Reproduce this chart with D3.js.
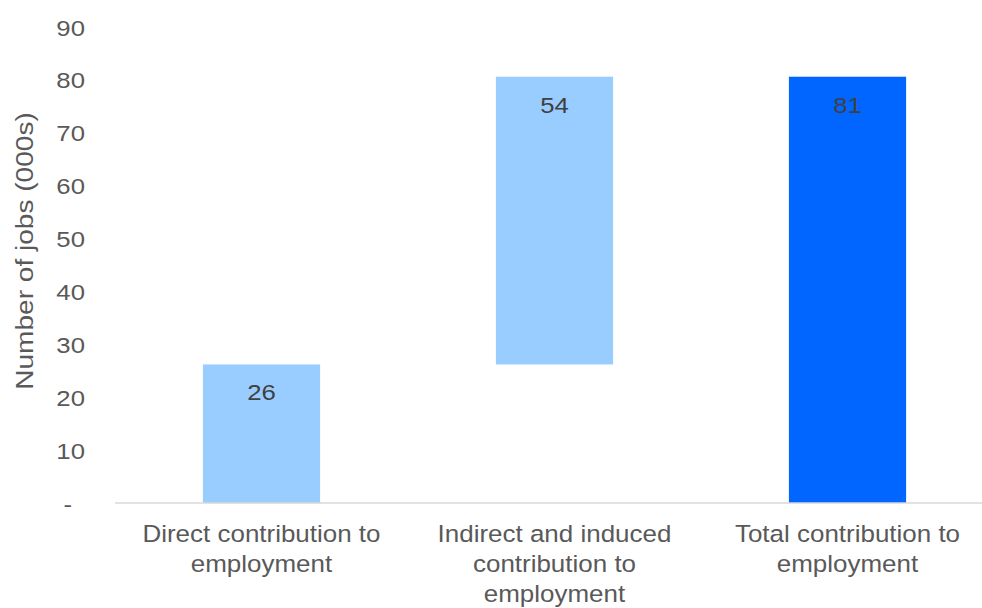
<!DOCTYPE html>
<html>
<head>
<meta charset="utf-8">
<script src="https://cdn.jsdelivr.net/npm/d3@7"></script>
<style>
  body { margin: 0; background: #fff; }
  svg { display: block; }
  text { font-family: "Liberation Sans", Arial, sans-serif; }
</style>
</head>
<body>
<svg id="chart" width="982" height="608"></svg>
<script>
// Employment contribution waterfall (thousands of jobs)
const categories = [
  "Direct contribution to\nemployment",
  "Indirect and induced\ncontribution to\nemployment",
  "Total contribution to\nemployment"
];
const jobs = [26.2, 54.4, 80.6];
const barKind = ["step", "step", "total"];
const yTicks = [0, 10, 20, 30, 40, 50, 60, 70, 80, 90];
const yTickLabels = ["-", "10", "20", "30", "40", "50", "60", "70", "80", "90"];
const yTitle = "Number of jobs (000s)";

const colors = { step: "#99CCFF", total: "#0066FF" };

const svg = d3.select("#chart");
const plot = { left: 115, right: 994, top: 27, bottom: 503 };

const x = d3.scaleBand()
  .domain(categories)
  .range([plot.left, plot.right])
  .paddingInner(0.6)
  .paddingOuter(0.3);

const y = d3.scaleLinear()
  .domain([0, 90])
  .range([plot.bottom, plot.top]);

// Waterfall segments: steps stack on the running total, totals start at zero
let running = 0;
const bars = jobs.map((v, i) => {
  let lo, hi;
  if (barKind[i] === "total") { lo = 0; hi = v; }
  else { lo = running; hi = running + v; running = hi; }
  return { cat: categories[i], value: v, lo, hi, kind: barKind[i] };
});

// Y axis labels
const yAxis = d3.axisLeft(y)
  .tickValues(yTicks)
  .tickSize(0)
  .tickFormat((d, i) => yTickLabels[i]);

const gy = svg.append("g").call(yAxis);
gy.select(".domain").remove();
gy.selectAll(".tick text")
  .attr("x", 0)
  .attr("dy", "0.35em")
  .attr("text-anchor", "end")
  .attr("fill", "#595959")
  .style("font-size", "23px")
  .attr("transform", d => `translate(${d === 0 ? 72 : 85},0) scale(1.12,1)`);

// Axis title
svg.append("text")
  .attr("transform", "translate(33,251) rotate(-90) scale(1.17,1)")
  .attr("text-anchor", "middle")
  .attr("fill", "#595959")
  .style("font-size", "24px")
  .text(yTitle);

// Bars
svg.append("g").selectAll("rect")
  .data(bars)
  .join("rect")
  .attr("x", d => x(d.cat))
  .attr("width", x.bandwidth())
  .attr("y", d => y(d.hi))
  .attr("height", d => y(d.lo) - y(d.hi))
  .attr("fill", d => colors[d.kind]);

// Category axis line
svg.append("line")
  .attr("x1", plot.left).attr("x2", plot.right)
  .attr("y1", y(0)).attr("y2", y(0))
  .attr("stroke", "#D9D9D9")
  .attr("stroke-width", 1.5);

// Value labels inside the top of each bar
svg.append("g").selectAll("text")
  .data(bars)
  .join("text")
  .attr("transform", d => `translate(${x(d.cat) + x.bandwidth() / 2},${y(d.hi) + 28}) scale(1.12,1)`)
  .attr("dy", "0.35em")
  .attr("text-anchor", "middle")
  .attr("fill", "#404040")
  .style("font-size", "23px")
  .text(d => d3.format(".0f")(d.value));

// Category labels
const cl = svg.append("g").selectAll("g")
  .data(categories)
  .join("g")
  .attr("transform", d => `translate(${x(d) + x.bandwidth() / 2},542)`);
cl.each(function (d) {
  d.split("\n").forEach((line, i) => {
    d3.select(this).append("text")
      .attr("transform", `translate(0,${i * 30}) scale(1.06,1)`)
      .attr("text-anchor", "middle")
      .attr("fill", "#595959")
      .style("font-size", "24.5px")
      .text(line);
  });
});
</script>
</body>
</html>
